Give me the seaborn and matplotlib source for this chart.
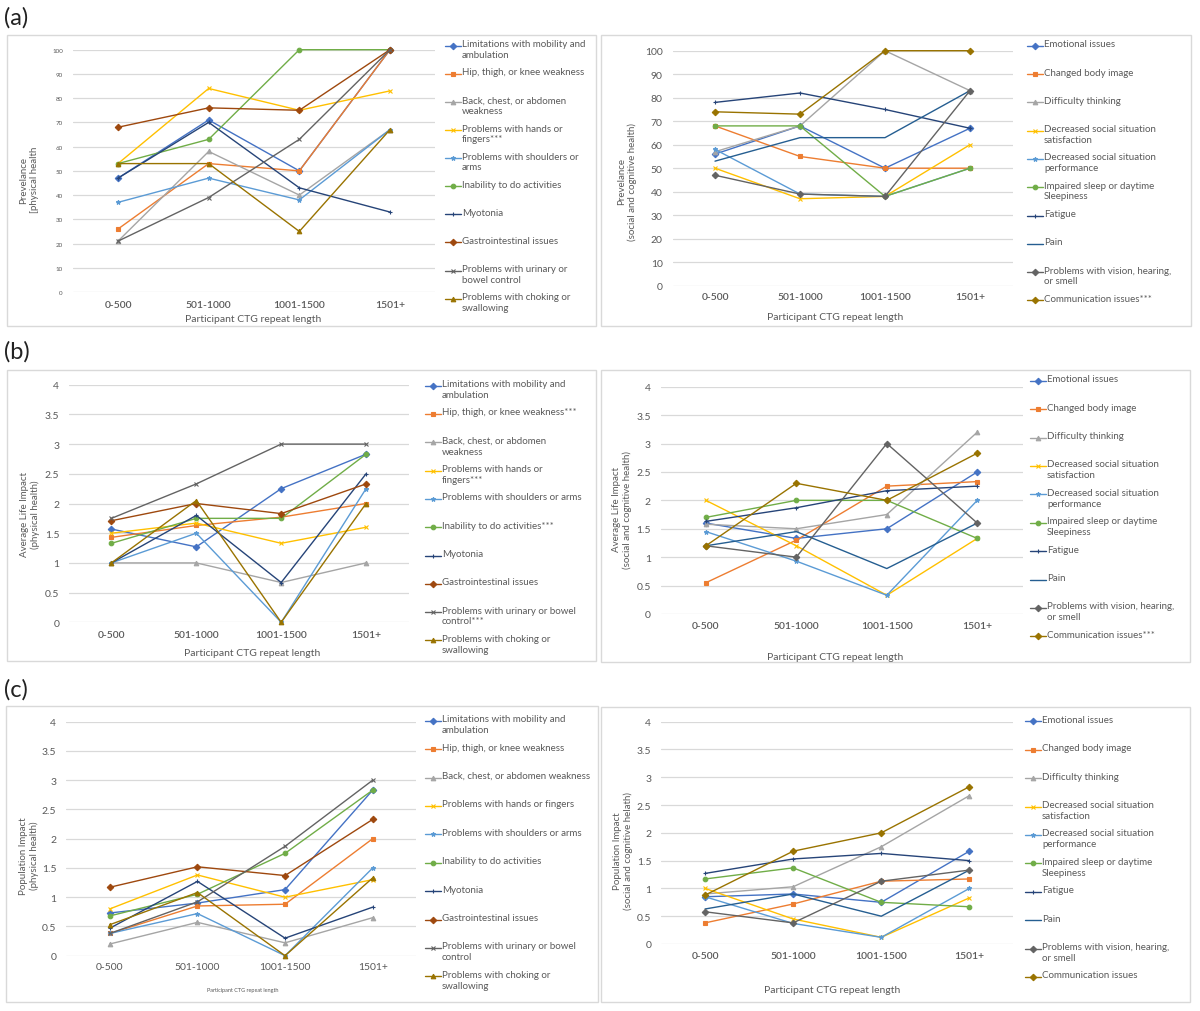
import matplotlib
matplotlib.use("Agg")
import matplotlib.pyplot as plt
from matplotlib.lines import Line2D
from matplotlib.patches import Rectangle
from matplotlib.ticker import FuncFormatter
import seaborn as sns

sns.set_style("white")
plt.rcParams["font.family"] = ["Lato", "DejaVu Sans"]

W, H = 1200, 1012

categories = ["0-500", "501-1000", "1001-1500", "1501+"]

phys_colors = ["#4472C4", "#ED7D31", "#A5A5A5", "#FFC000", "#5B9BD5",
               "#70AD47", "#264478", "#9E480E", "#636363", "#997300"]
phys_markers = ["D", "s", "^", "x", "*", "o", "+", "D", "x", "^"]
soc_colors = ["#4472C4", "#ED7D31", "#A5A5A5", "#FFC000", "#5B9BD5",
              "#70AD47", "#264478", "#255E91", "#636363", "#997300"]
soc_markers = ["D", "s", "^", "x", "*", "o", "+", None, "D", "D"]

phys_labels_a = ["Limitations with mobility and\nambulation", "Hip, thigh, or knee weakness",
                 "Back, chest, or abdomen\nweakness", "Problems with hands or\nfingers***",
                 "Problems with shoulders or\narms", "Inability to do activities", "Myotonia",
                 "Gastrointestinal issues", "Problems with urinary or\nbowel control",
                 "Problems with choking or\nswallowing"]
phys_labels_b = ["Limitations with mobility and\nambulation", "Hip, thigh, or knee weakness***",
                 "Back, chest, or abdomen\nweakness", "Problems with hands or\nfingers***",
                 "Problems with shoulders or arms", "Inability to do activities***", "Myotonia",
                 "Gastrointestinal issues", "Problems with urinary or bowel\ncontrol***",
                 "Problems with choking or\nswallowing"]
phys_labels_c = ["Limitations with mobility and\nambulation", "Hip, thigh, or knee weakness",
                 "Back, chest, or abdomen weakness", "Problems with hands or fingers",
                 "Problems with shoulders or arms", "Inability to do activities", "Myotonia",
                 "Gastrointestinal issues", "Problems with urinary or bowel\ncontrol",
                 "Problems with choking or\nswallowing"]
soc_labels = ["Emotional issues", "Changed body image", "Difficulty thinking",
              "Decreased social situation\nsatisfaction", "Decreased social situation\nperformance",
              "Impaired sleep or daytime\nSleepiness", "Fatigue", "Pain",
              "Problems with vision, hearing,\nor smell"]
soc_labels_ab = soc_labels + ["Communication issues***"]
soc_labels_c = soc_labels + ["Communication issues"]

prev_phys = [
    [47, 71, 50, 100],
    [26, 53, 50, 100],
    [21, 58, 40, 67],
    [53, 84, 75, 83],
    [37, 47, 38, 67],
    [53, 63, 100, 100],
    [47, 70, 43, 33],
    [68, 76, 75, 100],
    [21, 39, 63, 100],
    [53, 53, 25, 67],
]
prev_soc = [
    [56, 68, 50, 67],
    [68, 55, 50, 50],
    [57, 68, 100, 83],
    [50, 37, 38, 60],
    [58, 39, 38, 50],
    [68, 68, 38, 50],
    [78, 82, 75, 67],
    [53, 63, 63, 83],
    [47, 39, 38, 83],
    [74, 73, 100, 100],
]
life_phys = [
    [1.57, 1.27, 2.25, 2.83],
    [1.43, 1.63, 1.77, 2.0],
    [1.0, 1.0, 0.67, 1.0],
    [1.5, 1.67, 1.33, 1.6],
    [1.0, 1.5, 0.0, 2.25],
    [1.33, 1.75, 1.75, 2.83],
    [1.0, 1.8, 0.67, 2.5],
    [1.71, 2.0, 1.83, 2.33],
    [1.75, 2.33, 3.0, 3.0],
    [1.0, 2.05, 0.0, 2.0],
]
life_soc = [
    [1.6, 1.33, 1.5, 2.5],
    [0.55, 1.3, 2.25, 2.33],
    [1.58, 1.5, 1.75, 3.2],
    [2.0, 1.2, 0.33, 1.33],
    [1.45, 0.93, 0.33, 2.0],
    [1.7, 2.0, 2.0, 1.33],
    [1.63, 1.87, 2.17, 2.25],
    [1.2, 1.45, 0.8, 1.6],
    [1.2, 1.0, 3.0, 1.6],
    [1.2, 2.3, 2.0, 2.83],
]
pop_phys = [
    [0.73, 0.9, 1.13, 2.83],
    [0.38, 0.85, 0.88, 2.0],
    [0.2, 0.57, 0.22, 0.65],
    [0.8, 1.38, 1.0, 1.3],
    [0.38, 0.72, 0.0, 1.5],
    [0.68, 1.05, 1.75, 2.83],
    [0.47, 1.27, 0.3, 0.83],
    [1.17, 1.52, 1.37, 2.33],
    [0.38, 0.92, 1.87, 3.0],
    [0.53, 1.08, 0.0, 1.33],
]
pop_soc = [
    [0.85, 0.9, 0.75, 1.67],
    [0.38, 0.72, 1.13, 1.17],
    [0.9, 1.03, 1.75, 2.67],
    [1.0, 0.45, 0.12, 0.83],
    [0.85, 0.37, 0.12, 1.0],
    [1.17, 1.37, 0.75, 0.67],
    [1.27, 1.53, 1.63, 1.5],
    [0.63, 0.9, 0.5, 1.33],
    [0.58, 0.38, 1.13, 1.33],
    [0.88, 1.67, 2.0, 2.83],
]

GRID = "#D9D9D9"
TXT = "#595959"

fig = plt.figure(figsize=(W / 100, H / 100), dpi=100)


def fx(x):
    return x / W


def fy(y):
    return 1 - y / H


def draw_panel(box, plot, values, labels, colors, markers, ymax, ystep, ylabel, ylab_xy,
               xlab_xy, xtick_y, leg_x, leg_y0, leg_dy, ytick_size=7.5, xlab_size=7.5,
               xtick_weight="semibold"):
    x0, y0, x1, y1 = box
    fig.patches.append(Rectangle((fx(x0), fy(y1)), fx(x1 - x0), (y1 - y0) / H,
                                 transform=fig.transFigure, fill=False,
                                 edgecolor=GRID, linewidth=1.0))
    l, t, r, b = plot
    ax = fig.add_axes([fx(l), fy(b), fx(r - l), (b - t) / H])
    xs = list(range(len(categories)))
    for vals, c, m in zip(values, colors, markers):
        sns.lineplot(x=xs, y=vals, ax=ax, color=c, marker=m, markersize=3.3,
                     markeredgewidth=0.8, markeredgecolor=c, linewidth=1.0,
                     sort=False, clip_on=False)
    ax.set_xlim(-0.5, len(categories) - 0.5)
    ax.set_ylim(0, ymax)
    n = int(round(ymax / ystep))
    ax.set_yticks([i * ystep for i in range(n + 1)])
    ax.yaxis.set_major_formatter(FuncFormatter(lambda v, p: f"{v:g}"))
    ax.set_xticks(xs)
    ax.set_xticklabels(categories, fontsize=7.5, color=TXT, fontweight=xtick_weight)
    ax.grid(axis="y", color=GRID, linewidth=0.9)
    ax.set_axisbelow(True)
    sns.despine(ax=ax, left=True, bottom=True)
    ax.tick_params(axis="y", length=0, labelsize=ytick_size, labelcolor=TXT, pad=7)
    ax.tick_params(axis="x", length=0, pad=(xtick_y - b) * 0.72 - 4)
    fig.text(fx(ylab_xy[0]), fy(ylab_xy[1]), ylabel, rotation=90, ha="center", va="center",
             fontsize=7, color=TXT, linespacing=1.2)
    fig.text(fx(xlab_xy[0]), fy(xlab_xy[1]), "Participant CTG repeat length", ha="center",
             va="center", fontsize=xlab_size, color=TXT)
    for i, (lab, c, m) in enumerate(zip(labels, colors, markers)):
        yy = leg_y0 + i * leg_dy
        fig.lines.append(Line2D([fx(leg_x), fx(leg_x + 16)], [fy(yy), fy(yy)],
                                transform=fig.transFigure, color=c, linewidth=1.0))
        if m is not None:
            fig.lines.append(Line2D([fx(leg_x + 8)], [fy(yy)], transform=fig.transFigure,
                                    color=c, marker=m, markersize=3.3, markeredgewidth=0.8))
        fig.text(fx(leg_x + 17), fy(yy - 6.5), lab, ha="left", va="top", fontsize=7.0,
                 color=TXT, linespacing=1.25)
    return ax


for txt, yy in [("(a)", 18), ("(b)", 352), ("(c)", 690)]:
    fig.text(fx(4), fy(yy), txt, ha="left", va="center", fontsize=17, color="#222222")

draw_panel((7, 36, 596, 327), (72.7, 50.7, 435.3, 293), prev_phys, phys_labels_a,
           phys_colors, phys_markers, 100, 10, "Prevelance\n[physical health",
           (29, 180), (253, 319), 306.7, 445, 46.7, 28.1, ytick_size=4.5)
draw_panel((601, 36, 1191, 327), (672.5, 51.7, 1012.5, 286.7), prev_soc, soc_labels_ab,
           soc_colors, soc_markers, 100, 10, "Prevelance\n(social and cognitive health)",
           (627, 182), (835, 318), 299, 1027, 46.7, 28.3)
draw_panel((7, 371, 596, 662), (69, 385.7, 408.5, 623.3), life_phys, phys_labels_b,
           phys_colors, phys_markers, 4, 0.5, "Average Life Impact\n(physical health)",
           (30, 515), (252, 653), 636.7, 425, 386.7, 28.3)
draw_panel((601, 371, 1190, 663), (660.6, 387.7, 1022.5, 615), life_soc, soc_labels_ab,
           soc_colors, soc_markers, 4, 0.5, "Average Life Impact\n(social and cognitive health)",
           (622, 510), (835, 657), 628, 1030, 381.7, 28.4)
draw_panel((6, 707, 598, 1003), (66, 722.7, 416.5, 956.7), pop_phys, phys_labels_c,
           phys_colors, phys_markers, 4, 0.5, "Population Impact\n(physical health)",
           (29, 856), (243, 991), 969, 425, 721.7, 28.4, xlab_size=4, xtick_weight="normal")
draw_panel((601, 708, 1190, 1003), (661, 722.7, 1013.4, 945), pop_soc, soc_labels_c,
           soc_colors, soc_markers, 4, 0.5, "Population Impact\n(social and cognitive helath)",
           (623, 851), (832, 991), 958, 1025, 722.3, 28.4)

fig.savefig("out.png", dpi=100)
